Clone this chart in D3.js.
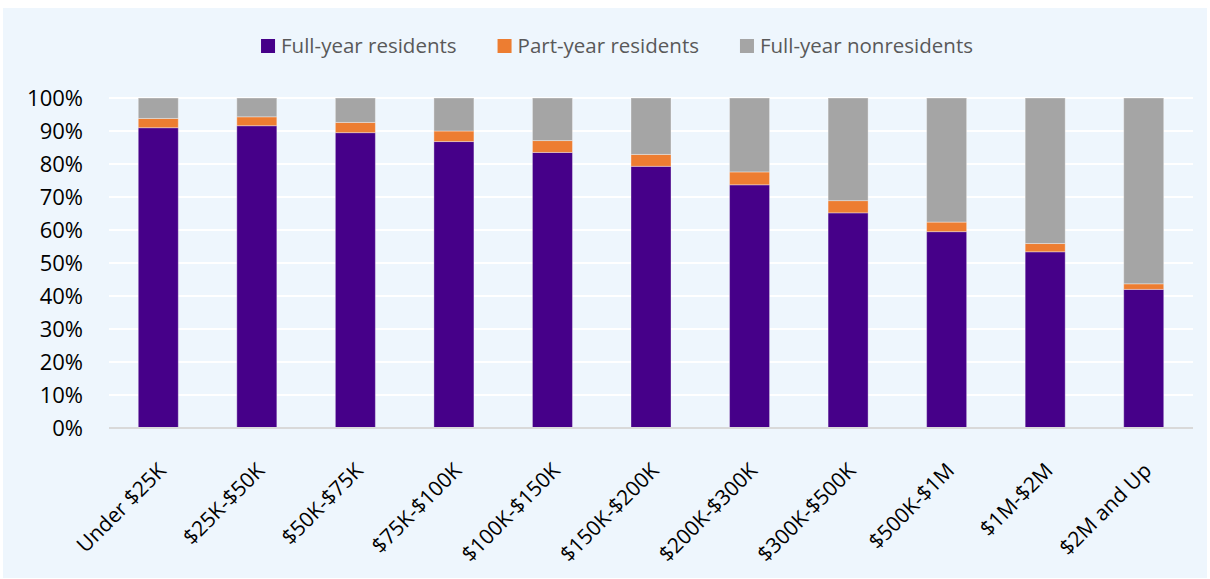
<!DOCTYPE html>
<html>
<head>
<meta charset="utf-8">
<script src="https://cdn.jsdelivr.net/npm/d3@7"></script>
<style>
  html, body { margin: 0; padding: 0; background: #ffffff; }
  svg { display: block; }
</style>
</head>
<body>
<svg id="chart" width="1210" height="579"></svg>
<script>
// ---- data ----
const categories = ["Under $25K", "$25K-$50K", "$50K-$75K", "$75K-$100K", "$100K-$150K",
  "$150K-$200K", "$200K-$300K", "$300K-$500K", "$500K-$1M", "$1M-$2M", "$2M and Up"];
const fullYearResidents = [91.0, 91.6, 89.5, 86.8, 83.5, 79.3, 73.7, 65.2, 59.5, 53.4, 42.0];
const partYearResidents = [2.8, 2.7, 3.1, 3.2, 3.6, 3.6, 3.9, 3.7, 2.9, 2.5, 1.7];
const fullYearNonresidents = [6.2, 5.7, 7.4, 10.0, 12.9, 17.1, 22.4, 31.1, 37.6, 44.1, 56.3];
const seriesNames = ["Full-year residents", "Part-year residents", "Full-year nonresidents"];
const yTicks = [0, 10, 20, 30, 40, 50, 60, 70, 80, 90, 100];

// ---- layout ----
const W = 1210, H = 579;
const plot = { left: 109, right: 1193, top: 98, bottom: 428 };
const colors = ["#460089", "#ED7D31", "#A5A5A5"];
const font = "'Open Sans', 'Noto Sans', sans-serif";

const svg = d3.select("#chart");

svg.append("rect")
  .attr("x", 3).attr("y", 8).attr("width", 1204).attr("height", 570)
  .attr("fill", "#EEF6FD");

const x = d3.scaleBand().domain(categories).range([plot.left, plot.right]).paddingInner(0.594).paddingOuter(0.297);
const y = d3.scaleLinear().domain([0, 100]).range([plot.bottom, plot.top]);

// gridlines
svg.append("g")
  .selectAll("line")
  .data(yTicks.filter(d => d > 0))
  .join("line")
  .attr("x1", plot.left).attr("x2", plot.right)
  .attr("y1", d => y(d)).attr("y2", d => y(d))
  .attr("stroke", "#ffffff").attr("stroke-width", 2);

// stacked data
const rows = categories.map((c, i) => ({
  cat: c,
  [seriesNames[0]]: fullYearResidents[i],
  [seriesNames[1]]: partYearResidents[i],
  [seriesNames[2]]: fullYearNonresidents[i]
}));
const stack = d3.stack().keys(seriesNames)(rows);

svg.append("g")
  .selectAll("g")
  .data(stack)
  .join("g")
  .attr("fill", (d, i) => colors[i])
  .selectAll("rect")
  .data(d => d)
  .join("rect")
  .attr("x", d => x(d.data.cat))
  .attr("width", x.bandwidth())
  .attr("y", d => y(d[1]))
  .attr("height", d => y(d[0]) - y(d[1]))
  .attr("stroke", "#ffffff").attr("stroke-opacity", 0.35).attr("stroke-width", 1);

// y axis
const yAxis = svg.append("g")
  .attr("transform", `translate(${plot.left},0)`)
  .call(d3.axisLeft(y).tickValues(yTicks).tickFormat(d => d + "%").tickSize(0).tickPadding(26));
yAxis.select(".domain").remove();
yAxis.selectAll("text")
  .attr("font-family", font).attr("font-size", 22).attr("fill", "#000000");

// x axis
const xAxis = svg.append("g")
  .attr("transform", `translate(0,${plot.bottom})`)
  .call(d3.axisBottom(x).tickSize(0).tickPadding(0));
xAxis.select(".domain").attr("stroke", "#D9D9D9").attr("stroke-width", 2)
  .attr("d", `M${plot.left},0H${plot.right}`);
xAxis.selectAll("text")
  .attr("font-family", font).attr("font-size", 21).attr("fill", "#000000")
  .attr("text-anchor", "end")
  .attr("dy", 0)
  .attr("transform", "translate(9,44) rotate(-45)");

// legend
const legend = svg.append("g").attr("font-family", font).attr("font-size", 20.5);
const items = legend.selectAll("g").data(seriesNames).join("g");
items.append("rect").attr("width", 14).attr("height", 14).attr("y", -7)
  .attr("fill", (d, i) => colors[i]);
items.append("text").attr("x", 20).attr("dy", "0.35em").attr("fill", "#595959").text(d => d);
let widths = [];
items.each(function () { widths.push(20 + d3.select(this).select("text").node().getComputedTextLength()); });
const gap = 41;
const total = d3.sum(widths) + gap * (widths.length - 1);
let cx = 617 - total / 2;
items.attr("transform", (d, i) => {
  const t = `translate(${cx},46)`;
  cx += widths[i] + gap;
  return t;
});
</script>
</body>
</html>
